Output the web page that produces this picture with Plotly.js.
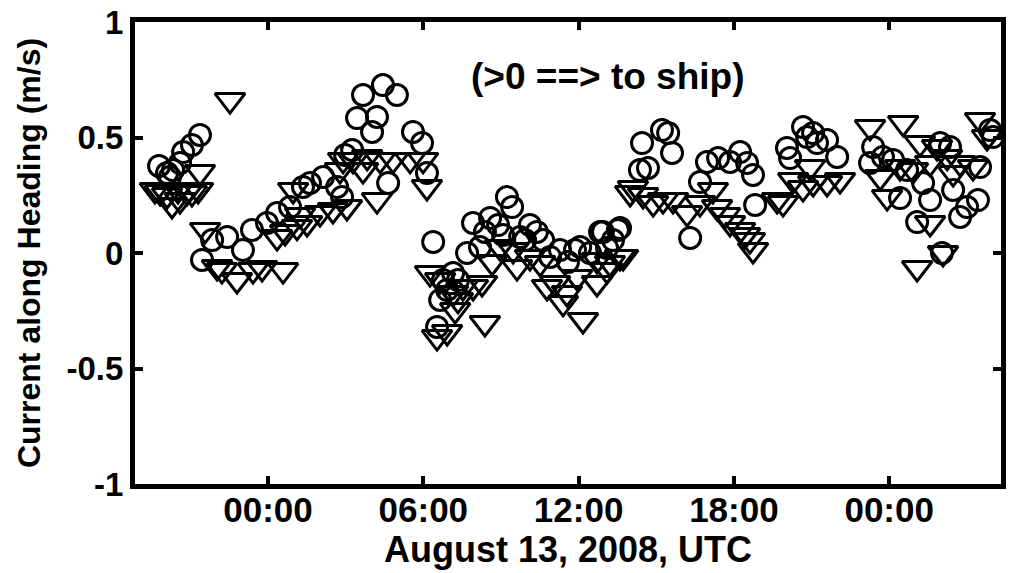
<!DOCTYPE html>
<html>
<head>
<meta charset="utf-8">
<script src="https://cdn.plot.ly/plotly-3.0.1.min.js"></script>
<style>html,body{margin:0;padding:0;background:#fff;}#chart{width:1011px;height:573px;}</style>
</head>
<body>
<div id="chart"></div>
<script>
// Hours relative to August 13, 2008 00:00 UTC
const circleHours = [-4.21,-3.90,-3.79,-3.67,-3.40,-3.28,-2.94,-2.63,
  -2.55,-2.16,-1.58,-0.97,-0.62,-0.04,0.35,0.85,1.35,
  1.62,2.13,2.67,2.86,2.98,3.25,3.44,3.67,4.02,4.21,4.44,4.98,4.64,5.60,5.95,6.14,6.38,
  6.65,6.53,6.76,6.92,7.15,7.34,7.69,7.92,8.19,8.38,8.58,8.89,9.08,9.23,9.43,9.74,9.93,10.12,10.39,10.63,10.90,11.28,11.59,11.86,12.06,12.44,12.83,13.10,13.33,13.60,
  12.94,13.52,14.37,14.45,14.68,15.22,15.46,15.61,16.31,16.69,16.96,17.39,17.85,18.24,18.51,18.74,18.82,
  20.05,20.17,20.67,20.83,21.06,21.21,21.60,21.99,23.26,23.38,23.76,24.15,24.42,24.69,25.31,25.58,25.08,25.97,26.35,26.47,26.74,27.01,27.43,26.04,27.51,27.90,28.01];
const circleValues = [0.377,0.346,0.329,0.359,0.390,0.437,0.468,0.511,
  -0.030,0.056,0.069,0.013,0.100,0.130,0.173,0.199,0.286,
  0.303,0.329,0.286,0.242,0.424,0.446,0.584,0.684,0.524,0.589,0.727,0.684,0.303,0.524,0.476,0.346,0.048,
  -0.203,-0.320,-0.117,-0.160,-0.087,-0.117,0.000,0.130,0.026,0.091,0.152,0.121,0.078,0.242,0.199,0.069,0.056,0.121,0.091,0.056,-0.017,0.013,-0.039,0.013,0.026,0.000,0.091,0.022,0.056,0.108,
  0.091,0.100,0.359,0.476,0.368,0.532,0.519,0.433,0.065,0.307,0.394,0.411,0.394,0.437,0.390,0.338,0.208,
  0.455,0.411,0.545,0.502,0.519,0.476,0.489,0.416,0.390,0.459,0.416,0.403,0.238,0.359,0.303,0.229,0.134,0.476,0.459,0.273,0.156,0.199,0.229,0.000,0.372,0.532,0.502];

const triangleHours = [-4.37,-4.17,-3.90,-3.71,-3.48,-3.40,-3.13,-2.94,-2.70,-2.63,-1.47,
  -2.43,-1.97,-1.78,-1.20,-0.58,-0.23,0.58,0.35,0.66,1.12,0.97,1.24,
  1.51,2.01,2.51,3.05,2.78,2.90,3.28,3.67,3.83,4.21,4.33,4.83,5.49,5.99,6.14,
  6.26,6.65,6.53,6.92,7.15,7.23,7.34,7.53,7.92,8.27,8.38,8.66,8.96,9.47,9.62,10.12,10.51,10.78,11.09,11.40,11.55,11.94,12.17,12.71,13.10,13.60,
  12.71,13.21,13.72,13.99,14.10,14.49,14.88,15.26,15.65,16.19,16.69,17.19,17.35,17.66,17.85,18.24,18.43,18.62,18.74,19.67,
  19.90,20.29,20.67,20.94,21.06,21.60,22.10,23.26,23.65,23.92,24.42,24.54,24.92,25.19,25.58,25.85,26.24,25.58,26.08,25.08,26.47,26.74,27.24,27.51,27.78];
const triangleValues = [0.273,0.264,0.251,0.208,0.273,0.229,0.264,0.260,0.273,0.351,0.662,
  0.100,-0.061,-0.074,-0.117,-0.074,-0.065,-0.074,0.069,0.091,0.113,0.273,0.165,
  0.130,0.173,0.186,0.199,0.359,0.403,0.403,0.359,0.416,0.229,0.403,0.403,0.403,0.403,0.286,
  -0.087,-0.117,-0.364,-0.342,-0.173,-0.247,-0.203,-0.147,-0.147,-0.130,-0.303,-0.039,0.026,0.013,-0.061,-0.017,-0.043,-0.147,-0.130,-0.216,-0.173,-0.104,-0.290,-0.130,-0.074,-0.017,
  -0.030,-0.043,-0.017,0.260,0.281,0.251,0.216,0.229,0.229,0.173,0.216,0.273,0.199,0.165,0.130,0.100,0.078,0.056,0.013,0.229,
  0.216,0.316,0.281,0.372,0.303,0.303,0.316,0.545,0.329,0.242,0.372,0.563,0.359,0.476,0.390,0.459,0.416,0.130,0.000,-0.065,0.346,0.390,0.372,0.576,0.502];

const tickHours = [0, 6, 12, 18, 24];
const tickLabels = ['00:00', '06:00', '12:00', '18:00', '00:00'];
const yTickVals = [-1, -0.5, 0, 0.5, 1];
const yTickLabels = ['-1', '-0.5', '0', '0.5', '1'];

const FONT = 'Liberation Sans, Arial, Helvetica, sans-serif';

const traces = [
  {x: circleHours, y: circleValues, type: 'scatter', mode: 'markers', cliponaxis: false,
   marker: {symbol: 'circle-open', size: 21, color: '#000', line: {width: 3, color: '#000'}}},
  {x: triangleHours, y: triangleValues, type: 'scatter', mode: 'markers', cliponaxis: false,
   marker: {symbol: 'triangle-down-open', size: 26, color: '#000', line: {width: 3, color: '#000'}}}
];

const axisCommon = {
  showline: true, linewidth: 5, linecolor: '#000', mirror: 'ticks',
  ticks: 'inside', ticklen: 8, tickwidth: 4, tickcolor: '#000',
  showgrid: false, zeroline: false
};

const layout = {
  width: 1011, height: 573,
  margin: {l: 135, r: 10, t: 22, b: 89},
  paper_bgcolor: '#fff', plot_bgcolor: '#fff',
  showlegend: false,
  xaxis: Object.assign({}, axisCommon, {
    range: [-5.14, 28.32], tickmode: 'array', tickvals: tickHours, ticktext: tickLabels,
    ticklabelstandoff: -9,
    tickfont: {family: FONT, size: 35, color: '#000', weight: 'bold'},
    title: {text: 'August 13, 2008, UTC', font: {family: FONT, size: 36, color: '#000', weight: 'bold'}, standoff: 6}
  }),
  yaxis: Object.assign({}, axisCommon, {
    range: [-1, 1], tickmode: 'array', tickvals: yTickVals, ticktext: yTickLabels,
    tickfont: {family: FONT, size: 33, color: '#000', weight: 'bold'},
    title: {text: 'Current along Heading (m/s)', font: {family: FONT, size: 32, color: '#000', weight: 'bold'}, standoff: 18}
  }),
  annotations: [{
    x: 13.10, y: 0.762, xref: 'x', yref: 'y', text: '(>0 ==> to ship)', showarrow: false,
    font: {family: FONT, size: 37, color: '#000', weight: 'bold'}
  }]
};

Plotly.newPlot('chart', traces, layout, {displayModeBar: false, staticPlot: true});
</script>
</body>
</html>
